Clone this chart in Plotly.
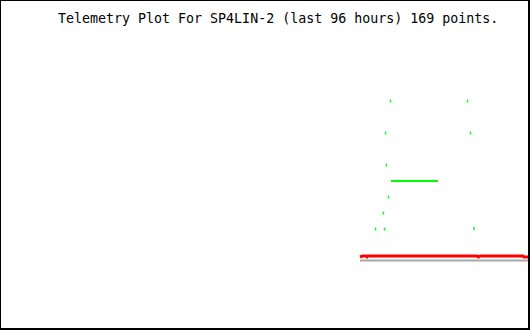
import plotly.graph_objects as go

# Time axis: hours within the 96-hour window; values in arbitrary telemetry units
title_text = "Telemetry Plot For SP4LIN-2 (last 96 hours) 169 points."

green_t = [68.02, 69.46, 69.65, 69.83, 70.00, 70.37, 70.73, 84.68, 85.22, 85.86]
green_v = [2.0, 3.0, 2.0, 8.0, 6.0, 4.0, 10.0, 10.0, 8.0, 2.03]

green_run_t = [70.82, 79.34]
green_run_v = [5.0, 5.0]

red_t = [65.21, 65.66, 66.29, 66.48, 66.66, 86.40, 86.67, 86.94, 94.73, 94.91, 96.0]
red_v = [0.25, 0.3125, 0.3125, 0.25, 0.3125, 0.3125, 0.25, 0.3125, 0.3125, 0.25, 0.25]

gray_t = [65.21, 96.0]
gray_v = [0.03, 0.03]

fig = go.Figure()
fig.add_trace(go.Scatter(x=gray_t, y=gray_v, mode="lines",
                         line=dict(color="#a8a8a8", width=2), hoverinfo="skip"))
fig.add_trace(go.Scatter(x=red_t, y=red_v, mode="lines",
                         line=dict(color="#ff0000", width=3), hoverinfo="skip"))
fig.add_trace(go.Scatter(x=green_run_t, y=green_run_v, mode="lines",
                         line=dict(color="#00ff00", width=2), hoverinfo="skip"))
fig.add_trace(go.Scatter(x=green_t, y=green_v, mode="markers",
                         marker=dict(symbol="line-ns", size=2,
                                     line=dict(color="#00ff00", width=1.5),
                                     color="#00ff00"),
                         hoverinfo="skip"))

fig.update_layout(
    width=530, height=330,
    margin=dict(l=0, r=0, t=0, b=0),
    paper_bgcolor="white", plot_bgcolor="white",
    showlegend=False,
    xaxis=dict(range=[0, 96], visible=False, fixedrange=True),
    yaxis=dict(range=[-4.3125, 16.3125], visible=False, fixedrange=True),
    shapes=[dict(type="rect", xref="paper", yref="paper",
                 x0=0, x1=529 / 530, y0=1 - 329 / 330, y1=1,
                 line=dict(color="black", width=2))],
    annotations=[dict(text=title_text, xref="paper", yref="paper",
                      x=278 / 530, y=1 - 18 / 330, xanchor="center", yanchor="middle",
                      showarrow=False,
                      font=dict(family="DejaVu Sans Mono", size=13.3, color="black"))],
)

fig.write_html("out.html", config={"displayModeBar": False})
